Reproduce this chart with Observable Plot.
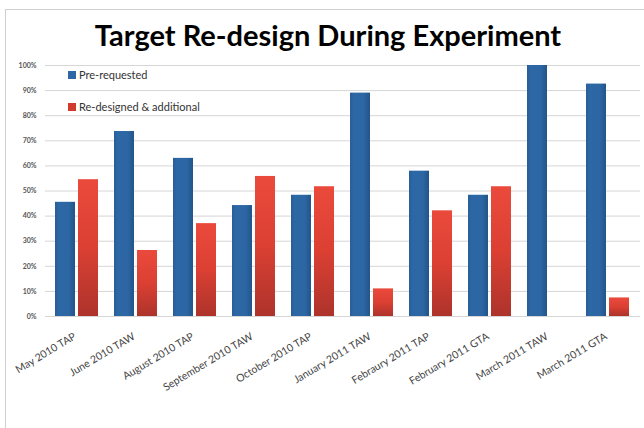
<!DOCTYPE html>
<html>
<head>
<meta charset="utf-8">
<script src="https://cdn.jsdelivr.net/npm/d3@7"></script>
<script src="https://cdn.jsdelivr.net/npm/@observablehq/plot@0.6"></script>
<style>
  html, body { margin: 0; padding: 0; background: #fff; }
  #wrap { position: relative; width: 644px; height: 428px; overflow: hidden; font-family: Lato, "Open Sans", sans-serif; }
  #frame { position: absolute; left: 5px; top: 9px; width: 700px; height: 500px; border-left: 1px solid #cfcfcf; border-top: 1px solid #cfcfcf; }
  #title { position: absolute; left: 6px; top: 18px; width: 644px; text-align: center; font-weight: 700; font-size: 29px; color: #000; line-height: 34px; }
  .layer { position: absolute; left: 0; top: 55px; }
  .legend { position: absolute; left: 68px; font-size: 11px; color: #333; display: flex; align-items: center; }
  .legend i { display: inline-block; width: 8px; height: 8px; margin-right: 3px; }
</style>
</head>
<body>
<div id="wrap">
  <div id="frame"></div>
  <div id="title">Target Re-design During Experiment</div>
  <div id="grid" class="layer"></div>
  <div id="bars" class="layer"></div>
  <div class="legend" id="leg0" style="top:68px"><i style="background:#2c66a4"></i><span></span></div>
  <div class="legend" id="leg1" style="top:100px"><i style="background:#d23a2e"></i><span></span></div>
</div>
<script>
// Experiment sessions along the bottom
const categories = [
  "May 2010 TAP", "June 2010 TAW", "August 2010 TAP", "September 2010 TAW",
  "October 2010 TAP", "January 2011 TAW", "Febraury 2011 TAP", "February 2011 GTA",
  "March 2011 TAW", "March 2011 GTA"
];
const seriesNames = ["Pre-requested", "Re-designed & additional"];
// Share of targets (%) per session
const preRequested = [45.5, 73.7, 63, 44.2, 48.3, 89, 57.9, 48.3, 100, 92.6];
const redesigned   = [54.5, 26.3, 37, 55.8, 51.7, 11, 42.1, 51.7, 0, 7.4];
const yTicks = [0, 10, 20, 30, 40, 50, 60, 70, 80, 90, 100];

const rows = categories.flatMap((c, i) => [
  {session: c, series: seriesNames[0], value: preRequested[i]},
  {session: c, series: seriesNames[1], value: redesigned[i]}
]);

// Shared frame so both layers line up
const frame = {
  width: 644, height: 373,
  marginTop: 10, marginBottom: 112, marginLeft: 45, marginRight: 4,
  style: {fontFamily: "Lato, 'Open Sans', sans-serif", background: "transparent"},
  y: {domain: [0, 100], label: null}
};

// Layer 1: continuous gridlines and the percentage axis
const gridLayer = Plot.plot({
  ...frame,
  marks: [
    Plot.ruleY(yTicks, {stroke: "#d6d6d6", strokeWidth: 1}),
    Plot.axisY(yTicks, {
      tickSize: 0, tickPadding: 9, label: null,
      tickFormat: d => d + "%", fontSize: 7, fontWeight: 700, fill: "#555"
    })
  ]
});

// Layer 2: grouped bars, one facet per session
const barLayer = Plot.plot({
  ...frame,
  fx: {domain: categories, paddingInner: 0.234, paddingOuter: 0.117, label: null},
  x: {domain: seriesNames, paddingInner: 0.11, paddingOuter: 0, axis: null},
  color: {domain: seriesNames, range: ["url(#gradPre)", "url(#gradRe)"]},
  marks: [
    Plot.axisFx({
      anchor: "bottom", tickSize: 0, tickPadding: 19, tickRotate: -31,
      fontSize: 10.5, fill: "#444", label: null, dx: -2
    }),
    Plot.barY(rows, {fx: "session", x: "series", y: "value", fill: "series"})
  ]
});
barLayer.querySelectorAll("[aria-label='y-axis tick'], [aria-label='y-axis tick label']").forEach(n => n.remove());

// Shaded fills for the two series
const defs = d3.create("svg:defs");
const gp = defs.append("linearGradient").attr("id", "gradPre")
  .attr("x1", 0).attr("x2", 1).attr("y1", 0).attr("y2", 0);
[[0, "#285e98"], [0.2, "#2d68a6"], [0.7, "#2c66a3"], [1, "#225489"]]
  .forEach(([o, c]) => gp.append("stop").attr("offset", o).attr("stop-color", c));
const gr = defs.append("linearGradient").attr("id", "gradRe")
  .attr("x1", 0).attr("x2", 0).attr("y1", 0).attr("y2", 1);
[[0, "#ea4a3c"], [0.5, "#db4033"], [1, "#ad332b"]]
  .forEach(([o, c]) => gr.append("stop").attr("offset", o).attr("stop-color", c));
barLayer.insertBefore(defs.node(), barLayer.firstChild);

document.getElementById("grid").appendChild(gridLayer);
document.getElementById("bars").appendChild(barLayer);
document.querySelector("#leg0 span").textContent = seriesNames[0];
document.querySelector("#leg1 span").textContent = seriesNames[1];
</script>
</body>
</html>
